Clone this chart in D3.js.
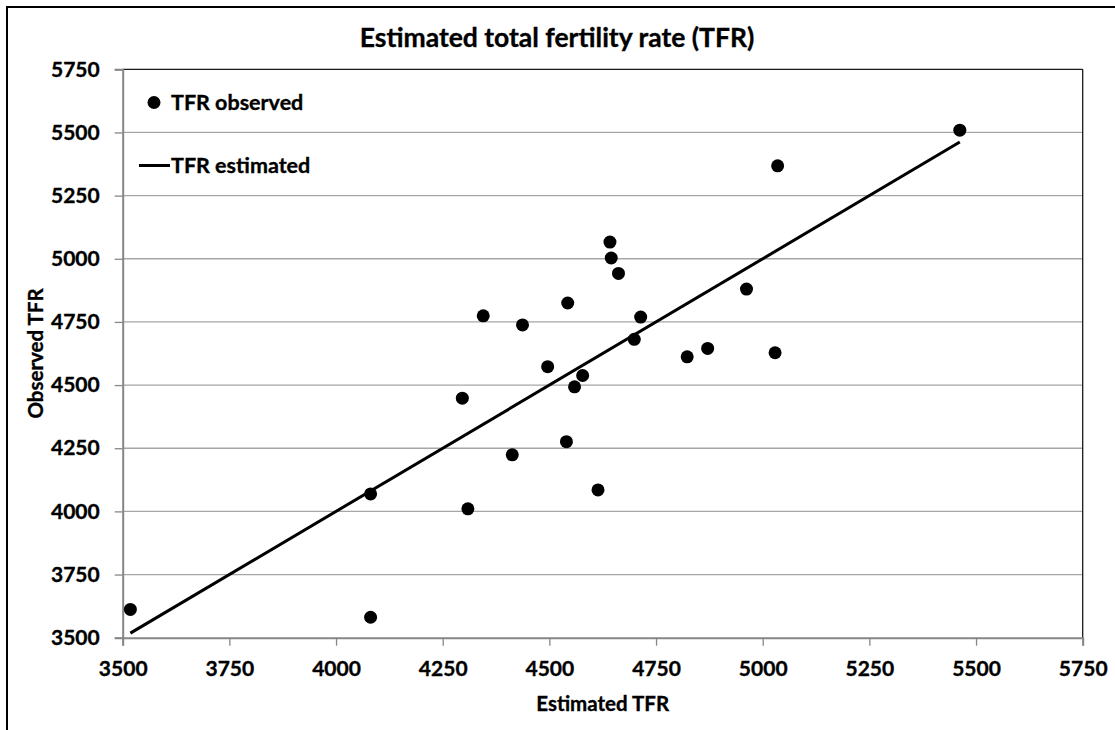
<!DOCTYPE html>
<html>
<head>
<meta charset="utf-8">
<script src="https://cdn.jsdelivr.net/npm/d3@7"></script>
<style>
  html, body { margin: 0; padding: 0; background: #fff; }
  svg { display: block; }
  text { font-family: Lato, "Open Sans", "Liberation Sans", sans-serif; font-weight: bold; fill: #000; stroke: #000; stroke-width: 0.35px; }
</style>
</head>
<body>
<svg id="chart" width="1115" height="730"></svg>
<script>
// ---- data ----
const chartTitle = "Estimated total fertility rate (TFR)";
const xTitle = "Estimated TFR";
const yTitle = "Observed TFR";
const xTicks = [3500, 3750, 4000, 4250, 4500, 4750, 5000, 5250, 5500, 5750];
const yTicks = [3500, 3750, 4000, 4250, 4500, 4750, 5000, 5250, 5500, 5750];
const observedEstimated = [3518, 4081, 4081, 4296, 4309, 4345, 4413, 4437, 4496, 4540, 4543, 4559, 4578, 4614, 4642, 4645, 4662, 4699, 4714, 4823, 4871, 4962, 5029, 5035, 5462];
const observedValues    = [3612, 3581, 4069, 4448, 4010, 4774, 4224, 4738, 4573, 4276, 4825, 4493, 4538, 4085, 5066, 5003, 4942, 4681, 4769, 4612, 4645, 4880, 4628, 5368, 5509];
const lineEstimated = [3518, 5462];
const lineValues    = [3518, 5462];
const legendLabels = ["TFR observed", "TFR estimated"];

// ---- layout ----
const svg = d3.select("#chart");
const pLeft = 122.7, pRight = 1082.7, pTop = 69.3, pBottom = 637.7;

const x = d3.scaleLinear().domain([3500, 5750]).range([pLeft, pRight]);
const y = d3.scaleLinear().domain([3500, 5750]).range([pBottom, pTop]);

// outer frame (left + top edges)
svg.append("line").attr("x1", 7).attr("x2", 7).attr("y1", 6).attr("y2", 730)
  .attr("stroke", "#000").attr("stroke-width", 2);
svg.append("line").attr("x1", 6).attr("x2", 1115).attr("y1", 7).attr("y2", 7)
  .attr("stroke", "#000").attr("stroke-width", 2);

// gridlines
svg.append("g").selectAll("line").data(yTicks.filter(d => d > 3500 && d < 5750)).join("line")
  .attr("x1", pLeft).attr("x2", pRight)
  .attr("y1", d => y(d)).attr("y2", d => y(d))
  .attr("stroke", "#a6a6a6").attr("stroke-width", 1.3);

// plot border top/right
svg.append("line").attr("x1", pLeft).attr("x2", pRight).attr("y1", pTop).attr("y2", pTop)
  .attr("stroke", "#1a1a1a").attr("stroke-width", 1.3);
svg.append("line").attr("x1", pRight).attr("x2", pRight).attr("y1", pTop).attr("y2", pBottom)
  .attr("stroke", "#1a1a1a").attr("stroke-width", 1.3);

// axes
const yAxis = svg.append("g").attr("transform", `translate(${pLeft},0)`)
  .call(d3.axisLeft(y).tickValues(yTicks).tickSize(8).tickPadding(15).tickFormat(d3.format("d")));
const xAxis = svg.append("g").attr("transform", `translate(0,${pBottom})`)
  .call(d3.axisBottom(x).tickValues(xTicks).tickSize(8).tickPadding(15).tickFormat(d3.format("d")));
[xAxis, yAxis].forEach(g => {
  g.select(".domain").attr("stroke", "#868686").attr("stroke-width", 2);
  g.selectAll(".tick line").attr("stroke", "#868686").attr("stroke-width", 1.3);
  g.selectAll(".tick text").style("font-size", "21px").style("font-family", "Lato, 'Open Sans', sans-serif").style("font-weight", "bold").attr("fill", "#000");
});

// estimated line
const lineData = lineEstimated.map((e, i) => [e, lineValues[i]]);
svg.append("path").datum(lineData)
  .attr("d", d3.line().x(d => x(d[0])).y(d => y(d[1])))
  .attr("fill", "none").attr("stroke", "#000").attr("stroke-width", 3);

// observed points
svg.append("g").selectAll("circle").data(observedEstimated.map((e, i) => [e, observedValues[i]])).join("circle")
  .attr("cx", d => x(d[0])).attr("cy", d => y(d[1])).attr("r", 6.5).attr("fill", "#000");

// legend
svg.append("circle").attr("cx", 154).attr("cy", 102.5).attr("r", 6.5).attr("fill", "#000");
svg.append("text").attr("x", 171).attr("y", 110).style("font-size", "21.5px").text(legendLabels[0]);
svg.append("line").attr("x1", 139).attr("x2", 170).attr("y1", 165.5).attr("y2", 165.5)
  .attr("stroke", "#000").attr("stroke-width", 3);
svg.append("text").attr("x", 171).attr("y", 173).style("font-size", "21.5px").text(legendLabels[1]);

// titles
svg.append("text").attr("x", 557).attr("y", 47).attr("text-anchor", "middle")
  .style("font-size", "26.5px").text(chartTitle);
svg.append("text").attr("x", (pLeft + pRight) / 2).attr("y", 711).attr("text-anchor", "middle")
  .style("font-size", "20.5px").text(xTitle);
svg.append("text").attr("transform", `translate(43,${(pTop + pBottom) / 2}) rotate(-90)`)
  .attr("text-anchor", "middle").style("font-size", "20.5px").text(yTitle);
</script>
</body>
</html>
